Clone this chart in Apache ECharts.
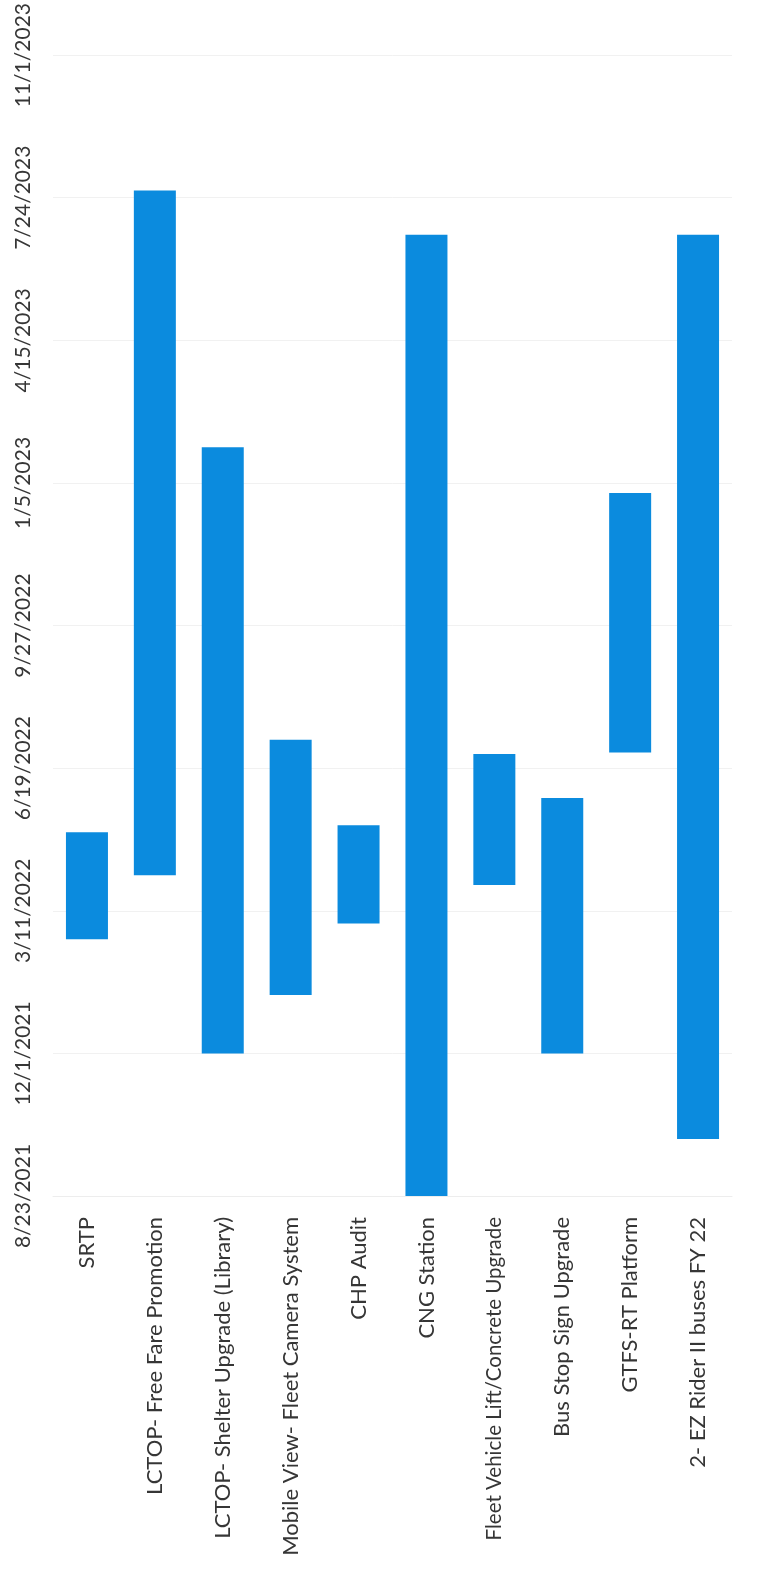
<!DOCTYPE html>
<html>
<head>
<meta charset="utf-8">
<title>Project Schedule</title>
<script src="https://cdn.jsdelivr.net/npm/echarts@6/dist/echarts.min.js"></script>
<style>
  html, body { margin: 0; padding: 0; background: #ffffff; }
  #chart { width: 761px; height: 1579px; }
</style>
</head>
<body>
<div id="chart"></div>
<script>
// Projects, in the order they run across the chart
const projects = [
  'SRTP',
  'LCTOP- Free Fare Promotion',
  'LCTOP- Shelter Upgrade (Library)',
  'Mobile View- Fleet Camera System',
  'CHP Audit',
  'CNG Station',
  'Fleet Vehicle Lift/Concrete Upgrade',
  'Bus Stop Sign Upgrade',
  'GTFS-RT Platform',
  '2- EZ Rider II buses FY 22'
];

// Start and end dates of each project (YYYY-MM-DD)
const startDates = [
  '2022-02-19', '2022-04-05', '2021-12-01', '2022-01-11', '2022-03-02',
  '2021-08-23', '2022-03-29', '2021-12-01', '2022-06-30', '2021-10-02'
];
const endDates = [
  '2022-05-05', '2023-07-29', '2023-01-30', '2022-07-09', '2022-05-10',
  '2023-06-28', '2022-06-29', '2022-05-29', '2022-12-29', '2023-06-28'
];

// Date axis: one tick every 100 days starting from the first label
const axisStart = '2021-08-23';
const tickLabels = [
  '8/23/2021', '12/1/2021', '3/11/2022', '6/19/2022', '9/27/2022',
  '1/5/2023', '4/15/2023', '7/24/2023', '11/1/2023'
];
const tickStep = 100;

function dayNumber(iso) {
  const [y, m, d] = iso.split('-').map(Number);
  return Date.UTC(y, m - 1, d) / 86400000;
}
const day0 = dayNumber(axisStart);
const startOffsets = startDates.map(s => dayNumber(s) - day0);
const durations = endDates.map((e, i) => dayNumber(e) - day0 - startOffsets[i]);

const FONT = 'Lato, "Open Sans", sans-serif';
const TEXT = '#363636';
const BAR = '#0b8bde';
const LABEL_SIZE = 22;
// the longest project name is set a little smaller so it stays inside the page
const longestName = projects.reduce((a, b) => (b.length > a.length ? b : a));
const categoryData = projects.map(name =>
  name === longestName ? { value: name, textStyle: { fontSize: 20.5 } } : name
);

const chart = echarts.init(document.getElementById('chart'), null, { renderer: 'canvas' });
chart.setOption({
  backgroundColor: '#ffffff',
  animation: false,
  grid: { left: 53, top: 53, width: 679, height: 1143, containLabel: false },
  xAxis: {
    type: 'category',
    data: categoryData,
    axisTick: { show: false },
    axisLine: { show: true, lineStyle: { color: '#ededed', width: 1 } },
    axisLabel: {
      interval: 0,
      rotate: 90,
      margin: 21,
      fontFamily: FONT,
      fontSize: LABEL_SIZE,
      color: TEXT
    }
  },
  yAxis: {
    type: 'value',
    min: 0,
    max: tickStep * (tickLabels.length - 1),
    interval: tickStep,
    axisLine: { show: false },
    axisTick: { show: false },
    splitLine: { show: true, lineStyle: { color: '#f1f1f1', width: 1 } },
    axisLabel: {
      rotate: 90,
      margin: 19,
      fontFamily: FONT,
      fontSize: 21,
      color: TEXT,
      formatter: v => tickLabels[Math.round(v / tickStep)]
    }
  },
  series: [
    {
      name: 'offset',
      type: 'bar',
      stack: 'schedule',
      barWidth: 42,
      silent: true,
      itemStyle: { color: 'rgba(0,0,0,0)' },
      data: startOffsets
    },
    {
      name: 'duration',
      type: 'bar',
      stack: 'schedule',
      barWidth: 42,
      itemStyle: { color: BAR },
      data: durations
    }
  ]
});
</script>
</body>
</html>
